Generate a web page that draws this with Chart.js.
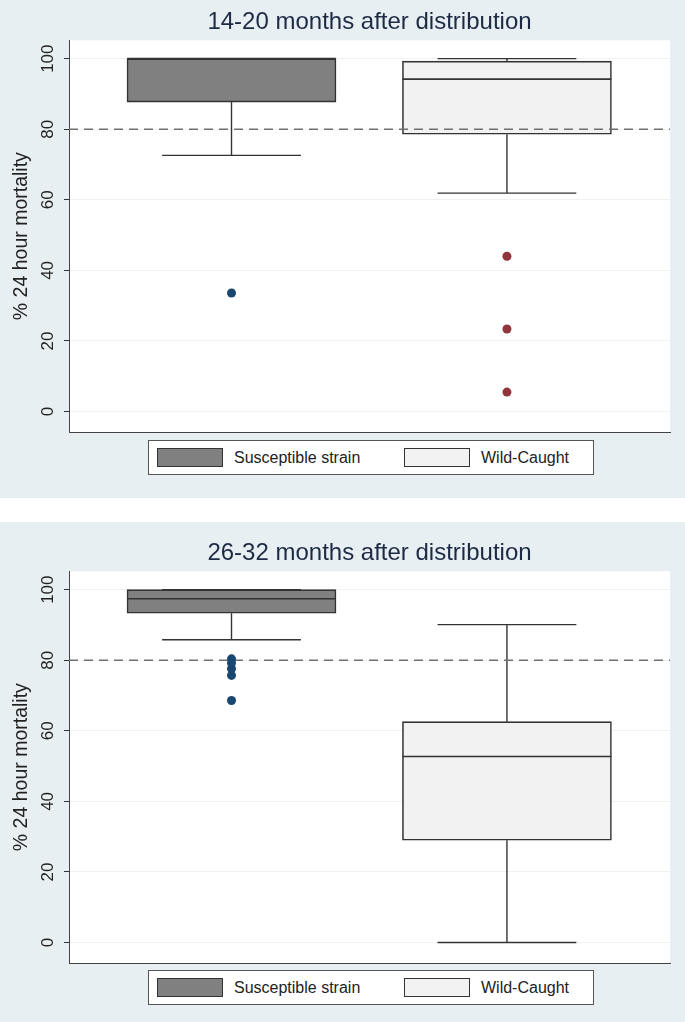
<!DOCTYPE html>
<html lang="en">
<head>
    <meta charset="UTF-8">
    <script src="https://cdn.jsdelivr.net/npm/chart.js"></script>
    <style>
        body {
            margin: 0;
            background: #ffffff;
            font-family: 'Liberation Sans', Arial, sans-serif;
        }
        .panel {
            position: absolute;
            left: 0;
            width: 685px;
            background: #e8eff2;
        }
        .chart-box {
            position: absolute;
            left: 0;
            top: 0;
            width: 685px;
            height: 100%;
        }
        .legend {
            position: absolute;
            left: 148px;
            width: 446px;
            height: 35px;
            box-sizing: border-box;
            background: #ffffff;
            border: 1px solid #555;
        }
        .legend-item {
            position: absolute;
            top: 0;
            height: 33px;
            display: flex;
            align-items: center;
            font-size: 16px;
            color: #222;
        }
        .legend-color {
            width: 64px;
            height: 17px;
            border: 1.5px solid #333;
            margin-right: 11px;
        }
    </style>
</head>
<body>
    <div class="panel" style="top:0; height:498px;">
        <div class="chart-box"><canvas id="chart1"></canvas></div>
        <div class="legend" id="legend1" style="top:440px;"></div>
    </div>
    <div class="panel" style="top:522px; height:500px;">
        <div class="chart-box"><canvas id="chart2"></canvas></div>
        <div class="legend" id="legend2" style="top:448px;"></div>
    </div>

    <script>
        const groups = ['Susceptible strain', 'Wild-Caught'];
        const yTicks = [0, 20, 40, 60, 80, 100];
        const refValue = 80;   // dashed reference line

        // 14-20 months after distribution
        const p1Min    = [72.6, 61.9];
        const p1Q1     = [87.7, 78.6];
        const p1Median = [100, 94.2];
        const p1Q3     = [100, 99.3];
        const p1Max    = [100, 100];
        const p1OutSusceptible = [33.6];
        const p1OutWild        = [44.0, 23.4, 5.5];

        // 26-32 months after distribution
        const p2Min    = [85.8, 0];
        const p2Q1     = [93.3, 29.0];
        const p2Median = [97.4, 52.7];
        const p2Q3     = [100, 62.6];
        const p2Max    = [100, 90.1];
        const p2OutSusceptible = [80.4, 79.2, 77.6, 75.7, 68.6];
        const p2OutWild        = [];

        const boxFill = ['#808080', '#f2f2f2'];
        const dotColor = ['#1a476f', '#90353b'];
        const lineColor = '#333333';
        const xMin = 0.41, xMax = 2.592;
        const boxHalf = 0.379, capHalf = 0.252;

        Chart.defaults.font.family = "'Liberation Sans', Arial, sans-serif";

        // white plot region on the bluish panel
        const plotBg = {
            id: 'plotBg',
            beforeDraw(chart) {
                const { ctx, chartArea: a } = chart;
                ctx.save();
                ctx.fillStyle = '#ffffff';
                ctx.fillRect(a.left, a.top, a.right - a.left, a.bottom - a.top);
                ctx.restore();
            }
        };

        // vertical tick labels, like Stata draws them
        const rotatedTicks = {
            id: 'rotatedTicks',
            afterDraw(chart) {
                const ctx = chart.ctx;
                const s = chart.scales.y;
                ctx.save();
                ctx.font = "17px 'Liberation Sans', Arial, sans-serif";
                ctx.fillStyle = '#222';
                ctx.textAlign = 'center';
                ctx.textBaseline = 'middle';
                s.ticks.forEach(t => {
                    ctx.save();
                    ctx.translate(s.right - 21, s.getPixelForValue(t.value));
                    ctx.rotate(-Math.PI / 2);
                    ctx.fillText(String(t.value), 0, 0);
                    ctx.restore();
                });
                ctx.restore();
            }
        };

        function whiskers(q1, q3, lo, hi) {
            const pts = [];
            groups.forEach((g, i) => {
                const c = i + 1;
                pts.push({ x: c, y: q3[i] }, { x: c, y: hi[i] }, { x: c, y: null });
                pts.push({ x: c - capHalf, y: hi[i] }, { x: c + capHalf, y: hi[i] }, { x: c, y: null });
                pts.push({ x: c, y: q1[i] }, { x: c, y: lo[i] }, { x: c, y: null });
                pts.push({ x: c - capHalf, y: lo[i] }, { x: c + capHalf, y: lo[i] }, { x: c, y: null });
            });
            return pts;
        }

        function medians(med) {
            const pts = [];
            groups.forEach((g, i) => {
                const c = i + 1;
                pts.push({ x: c - boxHalf, y: med[i] }, { x: c + boxHalf, y: med[i] }, { x: c, y: null });
            });
            return pts;
        }

        function makeChart(id, title, d, padTop, padBottom) {
            return new Chart(document.getElementById(id), {
                type: 'scatter',
                data: {
                    datasets: [
                        {
                            type: 'scatter',
                            data: d.outS.map(v => ({ x: 1, y: v })),
                            backgroundColor: dotColor[0],
                            borderWidth: 0,
                            pointRadius: 4.5,
                            order: 0
                        },
                        {
                            type: 'scatter',
                            data: d.outW.map(v => ({ x: 2, y: v })),
                            backgroundColor: dotColor[1],
                            borderWidth: 0,
                            pointRadius: 4.5,
                            order: 0
                        },
                        {
                            type: 'line',
                            data: [{ x: xMin, y: refValue }, { x: xMax, y: refValue }],
                            borderColor: '#707070',
                            borderWidth: 1.5,
                            borderDash: [9, 6],
                            pointRadius: 0,
                            order: 1
                        },
                        {
                            type: 'line',
                            data: whiskers(d.q1, d.q3, d.min, d.max),
                            borderColor: lineColor,
                            borderWidth: 1.4,
                            pointRadius: 0,
                            spanGaps: false,
                            order: 2
                        },
                        {
                            type: 'line',
                            data: medians(d.median),
                            borderColor: lineColor,
                            borderWidth: 1.6,
                            pointRadius: 0,
                            spanGaps: false,
                            order: 2
                        },
                        {
                            type: 'bar',
                            label: 'boxes',
                            data: groups.map((g, i) => ({ x: i + 1, y: [d.q1[i], d.q3[i]] })),
                            backgroundColor: boxFill,
                            borderColor: lineColor,
                            borderWidth: 1.6,
                            borderSkipped: false,
                            barThickness: 209,
                            order: 3
                        }
                    ]
                },
                options: {
                    responsive: true,
                    maintainAspectRatio: false,
                    animation: false,
                    events: [],
                    layout: {
                        padding: { top: padTop, bottom: padBottom, left: 0, right: 15 }
                    },
                    plugins: {
                        legend: { display: false },
                        tooltip: { enabled: false },
                        title: {
                            display: true,
                            text: title,
                            fullSize: false,
                            color: '#1d2a44',
                            font: { size: 24, weight: 'normal' },
                            padding: { top: 8, bottom: 3.5 }
                        }
                    },
                    scales: {
                        x: {
                            type: 'linear',
                            min: xMin,
                            max: xMax,
                            offset: false,
                            grid: { display: false },
                            ticks: { display: false },
                            border: { display: true, color: '#444', width: 1 },
                            afterFit: s => { s.height = 0; }
                        },
                        y: {
                            type: 'linear',
                            min: -5.8,
                            max: 105.2,
                            afterBuildTicks: s => { s.ticks = yTicks.map(v => ({ value: v })); },
                            afterFit: s => { s.width = 69; },
                            ticks: { display: false },
                            grid: {
                                color: '#edf2f4',
                                tickColor: '#333',
                                tickLength: 5
                            },
                            border: { display: true, color: '#444', width: 1 },
                            title: {
                                display: true,
                                text: '% 24 hour mortality',
                                color: '#222',
                                font: { size: 19.5 },
                                padding: { top: 10, bottom: 0 }
                            }
                        }
                    }
                },
                plugins: [plotBg, rotatedTicks]
            });
        }

        function buildLegend(id) {
            const box = document.getElementById(id);
            const lefts = [8, 255];
            groups.forEach((g, i) => {
                const item = document.createElement('div');
                item.className = 'legend-item';
                item.style.left = lefts[i] + 'px';
                const sw = document.createElement('div');
                sw.className = 'legend-color';
                sw.style.backgroundColor = boxFill[i];
                const label = document.createElement('span');
                label.textContent = g;
                item.appendChild(sw);
                item.appendChild(label);
                box.appendChild(item);
            });
        }

        makeChart('chart1', '14-20 months after distribution', {
            min: p1Min, q1: p1Q1, median: p1Median, q3: p1Q3, max: p1Max,
            outS: p1OutSusceptible, outW: p1OutWild
        }, 0, 66);

        makeChart('chart2', '26-32 months after distribution', {
            min: p2Min, q1: p2Q1, median: p2Median, q3: p2Q3, max: p2Max,
            outS: p2OutSusceptible, outW: p2OutWild
        }, 9, 59);

        buildLegend('legend1');
        buildLegend('legend2');
    </script>
</body>
</html>
